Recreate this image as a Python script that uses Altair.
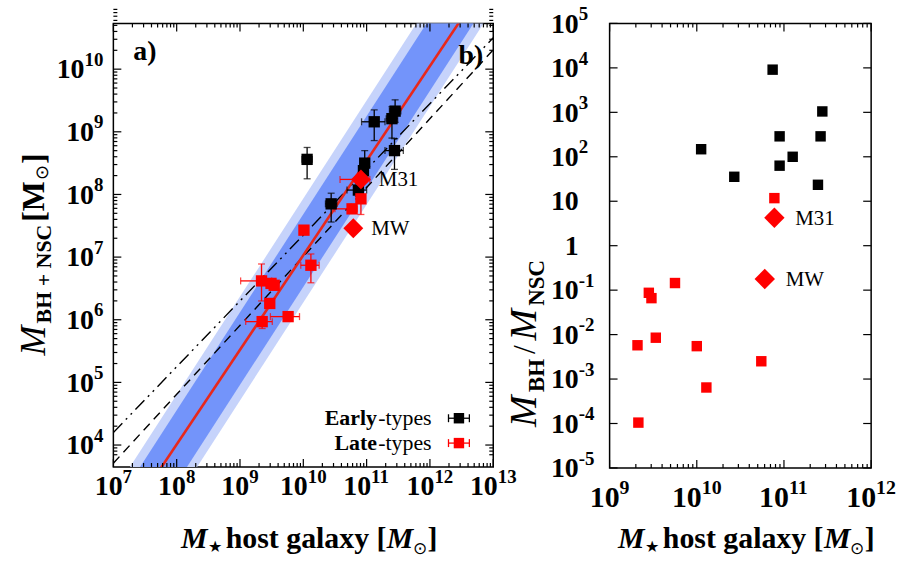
import altair as alt
import pandas as pd

FONT = "Liberation Serif"

# ---------------- data (log10 values) ----------------
# panel a) early-type hosts: log M*, log M(BH+NSC), error-bar limits
early_x   = [10.06, 10.44, 10.97, 10.87, 11.12, 11.40, 11.45, 11.44, 10.95]
early_y   = [8.56, 7.85, 8.50, 8.07, 9.16, 9.21, 9.33, 8.70, 8.38]
early_xlo = [9.98, 10.35, 10.90, 10.69, 10.92, 11.31, 11.36, 11.29, 10.90]
early_xhi = [10.14, 10.53, 11.04, 11.00, 11.29, 11.49, 11.54, 11.58, 11.00]
early_ylo = [8.25, 7.56, 8.28, 7.97, 8.86, 8.90, 9.15, 8.40, 8.30]
early_yhi = [8.75, 8.02, 8.70, 8.17, 9.35, 9.40, 9.51, 8.89, 8.46]

# panel a) late-type hosts
late_x   = [10.01, 10.77, 10.91, 9.34, 9.49, 9.54, 9.47, 9.35, 9.76, 10.12]
late_y   = [7.43, 7.77, 7.93, 6.62, 6.58, 6.55, 6.26, 5.97, 6.05, 6.87]
late_xlo = [9.98, 10.50, 10.86, 9.01, 9.44, 9.50, 9.43, 9.09, 9.48, 9.96]
late_xhi = [10.04, 10.85, 10.96, 9.50, 9.54, 9.58, 9.51, 9.51, 9.94, 10.25]
late_ylo = [7.38, 7.70, 7.68, 6.30, 6.54, 6.50, 6.22, 5.86, 6.01, 6.59]
late_yhi = [7.47, 7.84, 8.00, 6.89, 6.62, 6.60, 6.30, 6.05, 6.09, 7.05]

# Local Group galaxies (diamonds)
lg_names = ["M31", "MW"]
lg_x = [10.91, 10.79]
lg_y = [8.24, 7.46]
m31_xlo, m31_xhi, m31_ylo, m31_yhi = 10.58, 11.05, 8.18, 8.30

# relations in panel a): slope and value at log M* = 11
fit_slope, fit_at11 = 1.51, 8.54            # red best fit
band_slope, band_at11 = 1.565, 8.67         # centre of the shaded bands
band_dark, band_light = 0.58, 0.83          # half widths (dex)
ddot_slope, ddot_at11 = 1.05, 8.40          # dash-dot-dot relation
dash_slope, dash_at11 = 1.10, 8.11          # dashed relation

# panel b) log(M_BH / M_NSC)
ratio_early_x = [10.87, 11.44, 10.95, 11.42, 10.05, 11.10, 10.95, 10.43, 11.39]
ratio_early_y = [3.96, 3.02, 2.46, 2.46, 2.17, 2.00, 1.80, 1.55, 1.37]
ratio_late_x = [10.89, 9.75, 9.45, 9.48, 9.53, 9.32, 10.00, 10.74, 10.11, 9.33]
ratio_late_y = [1.07, -0.84, -1.06, -1.18, -2.07, -2.24, -2.26, -2.60, -3.19, -3.98]
ratio_lg_x = [10.89, 10.78]
ratio_lg_y = [0.63, -0.75]

# tick labels: mantissa + exponent
a_x_exp = [7, 8, 9, 10, 11, 12, 13]
a_x_man = ["10"] * 7
a_x_sup = ["7", "8", "9", "10", "11", "12", "13"]
a_y_exp = [4, 5, 6, 7, 8, 9, 10]
a_y_man = ["10"] * 7
a_y_sup = ["4", "5", "6", "7", "8", "9", "10"]
b_x_exp = [9, 10, 11, 12]
b_x_man = ["10"] * 4
b_x_sup = ["9", "10", "11", "12"]
b_y_exp = [-5, -4, -3, -2, -1, 0, 1, 2, 3, 4, 5]
b_y_man = ["10", "10", "10", "10", "10", "1", "10", "10", "10", "10", "10"]
b_y_sup = ["-5", "-4", "-3", "-2", "-1", "", "", "2", "3", "4", "5"]

# ---------------- helpers ----------------
P = lambda v: 10.0 ** v

WA, HA = 382, 446
WB, HB = 263, 447

xs_a = alt.Scale(type="log", domain=[1e7, 1e13], nice=False)
ys_a = alt.Scale(type="log", domain=[P(3.65), P(10.73)], nice=False)
xs_b = alt.Scale(type="log", domain=[1e9, 1e12], nice=False)
ys_b = alt.Scale(type="log", domain=[1e-5, 1e5], nice=False)


def XA(f):
    return alt.X(f, type="quantitative", scale=xs_a, axis=None)


def YA(f):
    return alt.Y(f, type="quantitative", scale=ys_a, axis=None)


def XB(f):
    return alt.X(f, type="quantitative", scale=xs_b, axis=None)


def YB(f):
    return alt.Y(f, type="quantitative", scale=ys_b, axis=None)


def txt(s, x, y, size, weight="normal", style="normal", angle=0, align="center",
        baseline="middle", color="black"):
    return alt.Chart(pd.DataFrame({"t": [s]})).mark_text(
        font=FONT, fontSize=size, fontWeight=weight, fontStyle=style, angle=angle,
        align=align, baseline=baseline, color=color
    ).encode(x=alt.value(x), y=alt.value(y), text="t:N")


def tick_df(exps, mans, sups):
    return pd.DataFrame({"v": [P(e) for e in exps], "m": mans, "s": sups,
                         "n": [len(s) for s in sups]})


def x_tick_labels(X, exps, mans, sups, H, fs, es, base_off, sup_off, digit_w):
    df = tick_df(exps, mans, sups)
    out = []
    for n in sorted(set(df["n"])):
        sub = df[df["n"] == n]
        man_w = fs * 0.5 * 2
        total = man_w + n * digit_w
        edge = -total / 2 + man_w
        out.append(alt.Chart(sub).mark_text(font=FONT, fontSize=fs, fontWeight="bold", align="right",
                                            baseline="alphabetic", dx=edge, color="black")
                   .encode(x=X("v"), y=alt.value(H + base_off), text="m:N"))
        out.append(alt.Chart(sub).mark_text(font=FONT, fontSize=es, fontWeight="bold", align="left",
                                            baseline="alphabetic", dx=edge, color="black")
                   .encode(x=X("v"), y=alt.value(H + sup_off), text="s:N"))
    return out


def y_tick_labels(Y, exps, mans, sups, fs, es, right_edge, per_digit, fixed=False):
    df = tick_df(exps, mans, sups)
    out = []
    groups = [0] if fixed else sorted(set(df["n"]))
    for n in groups:
        sub = df if fixed else df[df["n"] == n]
        edge = right_edge if fixed else right_edge - n * per_digit
        out.append(alt.Chart(sub).mark_text(font=FONT, fontSize=fs, fontWeight="bold", align="right",
                                            baseline="alphabetic", dy=fs * 0.33, color="black")
                   .encode(x=alt.value(edge), y=Y("v"), text="m:N"))
        out.append(alt.Chart(sub).mark_text(font=FONT, fontSize=es, fontWeight="bold", align="left",
                                            baseline="alphabetic", dy=-fs * 0.12, color="black")
                   .encode(x=alt.value(edge), y=Y("v"), text="s:N"))
    return out


def frame_ticks(X, Y, W, H, xmaj, xmin, ymaj, ymin, maj=8, mnr=4):
    out = []
    for vals, L in [(xmaj, maj), (xmin, mnr)]:
        if not vals:
            continue
        d = pd.DataFrame({"v": vals})
        r = alt.Chart(d).mark_rule(color="black", strokeWidth=1.2)
        out.append(r.encode(x=X("v"), y=alt.value(H), y2=alt.value(H - L)))
        out.append(r.encode(x=X("v"), y=alt.value(0), y2=alt.value(L)))
    for vals, L in [(ymaj, maj), (ymin, mnr)]:
        if not vals:
            continue
        d = pd.DataFrame({"v": vals})
        r = alt.Chart(d).mark_rule(color="black", strokeWidth=1.2)
        out.append(r.encode(y=Y("v"), x=alt.value(0), x2=alt.value(L)))
        out.append(r.encode(y=Y("v"), x=alt.value(W), x2=alt.value(W - L)))
    return out


def minors(e0, e1):
    return [m * P(k) for k in range(e0, e1) for m in range(2, 10)]


def errbars(df, X, Y, color, cap=7):
    base_h = alt.Chart(df).mark_rule(color=color, strokeWidth=1.3)
    tk = lambda o: alt.Chart(df).mark_tick(color=color, orient=o, size=cap, thickness=1.3)
    return [
        base_h.encode(x=X("xlo"), x2="xhi", y=Y("y")),
        base_h.encode(x=X("x"), y=Y("ylo"), y2="yhi"),
        tk("vertical").encode(x=X("xlo"), y=Y("y")),
        tk("vertical").encode(x=X("xhi"), y=Y("y")),
        tk("horizontal").encode(x=X("x"), y=Y("ylo")),
        tk("horizontal").encode(x=X("x"), y=Y("yhi")),
    ]


def lin_rel(slope, at11, off=0.0):
    return [P(at11 + off + slope * (x - 11.0)) for x in (7.0, 13.0)]


def x_title(cx, base):
    return [
        txt("M", cx - 123, base, 30, weight="bold", style="italic", align="left", baseline="alphabetic"),
        txt("★", cx - 96, base + 5, 16, align="left", baseline="alphabetic"),
        txt("host galaxy [", cx - 78, base, 30, weight="bold", align="left", baseline="alphabetic"),
        txt("M", cx + 84, base, 30, weight="bold", style="italic", align="left", baseline="alphabetic"),
        txt("⊙", cx + 110, base + 7, 17, align="left", baseline="alphabetic"),
        txt("]", cx + 125, base, 30, weight="bold", align="left", baseline="alphabetic"),
    ]


# ---------------- panel a ----------------
def logdf(**cols):
    return pd.DataFrame({k: [P(v) for v in vals] for k, vals in cols.items()})


early_df = logdf(x=early_x, y=early_y, xlo=early_xlo, xhi=early_xhi, ylo=early_ylo, yhi=early_yhi)
late_df = logdf(x=late_x, y=late_y, xlo=late_xlo, xhi=late_xhi, ylo=late_ylo, yhi=late_yhi)
m31_df = logdf(x=[lg_x[0]], y=[lg_y[0]], xlo=[m31_xlo], xhi=[m31_xhi], ylo=[m31_ylo], yhi=[m31_yhi])
lg_df = pd.DataFrame({"name": lg_names, "x": [P(v) for v in lg_x], "y": [P(v) for v in lg_y]})

band_df = pd.DataFrame({
    "x": [1e7, 1e13],
    "dlo": lin_rel(band_slope, band_at11, -band_dark),
    "dhi": lin_rel(band_slope, band_at11, band_dark),
    "llo": lin_rel(band_slope, band_at11, -band_light),
    "lhi": lin_rel(band_slope, band_at11, band_light),
    "fit": lin_rel(fit_slope, fit_at11),
    "ddot": lin_rel(ddot_slope, ddot_at11),
    "dash": lin_rel(dash_slope, dash_at11),
})

bands = alt.Chart(band_df)
a_layers = [
    bands.mark_area(color="#c6d3fb", clip=True).encode(x=XA("x"), y=YA("llo"), y2="lhi"),
    bands.mark_area(color="#7394fa", clip=True).encode(x=XA("x"), y=YA("dlo"), y2="dhi"),
    bands.mark_line(color="black", strokeWidth=1.4, strokeDash=[13, 5, 2, 5, 2, 5], clip=True).encode(x=XA("x"), y=YA("ddot")),
    bands.mark_line(color="black", strokeWidth=1.4, strokeDash=[9, 6], clip=True).encode(x=XA("x"), y=YA("dash")),
    bands.mark_line(color="#e8281c", strokeWidth=2.6, clip=True).encode(x=XA("x"), y=YA("fit")),
]
a_layers += errbars(early_df, XA, YA, "black")
a_layers += errbars(late_df, XA, YA, "#ff0000")
a_layers += errbars(m31_df, XA, YA, "#ff0000")
a_layers += [
    alt.Chart(early_df).mark_square(color="black", size=130, opacity=1).encode(x=XA("x"), y=YA("y")),
    alt.Chart(late_df).mark_square(color="#ff0000", size=130, opacity=1).encode(x=XA("x"), y=YA("y")),
    alt.Chart(lg_df).mark_point(shape="diamond", filled=True, color="#ff0000", size=400, opacity=1).encode(x=XA("x"), y=YA("y")),
    alt.Chart(lg_df).mark_text(font=FONT, fontSize=21, align="left", baseline="middle", dx=18, dy=1, color="black").encode(
        x=XA("x"), y=YA("y"), text="name:N"),
]
a_layers += frame_ticks(XA, YA, WA, HA, [P(e) for e in a_x_exp], minors(7, 13),
                        [P(e) for e in a_y_exp], minors(3, 11)[5:])
a_layers += x_tick_labels(XA, a_x_exp, a_x_man, a_x_sup, HA, 28, 19, 28, 16, 9.5)
a_layers += y_tick_labels(YA, a_y_exp, a_y_man, a_y_sup, 28, 19, -10, 9.5)

# legend of panel a
one = alt.Chart(pd.DataFrame({"k": [0]}))
for row, (bold, color) in enumerate([("Early", "black"), ("Late", "#ff0000")]):
    yc = 397 + 25 * row
    a_layers.append(txt("-types", 320, yc + 7, 22, align="right", baseline="alphabetic"))
    a_layers.append(txt(bold, 265, yc + 7, 22, weight="bold", align="right", baseline="alphabetic"))
    a_layers.append(one.mark_rule(color=color, strokeWidth=1.3).encode(x=alt.value(337), x2=alt.value(358), y=alt.value(yc)))
    a_layers.append(one.mark_rule(color=color, strokeWidth=1.3).encode(x=alt.value(337), y=alt.value(yc - 4), y2=alt.value(yc + 4)))
    a_layers.append(one.mark_rule(color=color, strokeWidth=1.3).encode(x=alt.value(358), y=alt.value(yc - 4), y2=alt.value(yc + 4)))
    a_layers.append(one.mark_square(color=color, size=110, opacity=1).encode(x=alt.value(347.5), y=alt.value(yc)))

# panel labels
a_layers.append(txt("a)", 20, 37, 28, weight="bold", align="left", baseline="alphabetic"))
a_layers.append(txt("b)", 347, 41, 28, weight="bold", align="left", baseline="alphabetic"))

# y title of panel a (rotated)
a_layers += [
    txt("M", -80, 319, 36, style="italic", angle=270),
    txt("BH + NSC", -70, 252, 22, weight="bold", angle=270),
    txt("[M", -80, 179, 32, weight="bold", angle=270),
    txt("⊙", -71, 150, 18, angle=270),
    txt("]", -80, 136, 32, weight="bold", angle=270),
]
a_layers += x_title(WA / 2, 527)

panel_a = alt.layer(*a_layers).properties(width=WA, height=HA)

# ---------------- panel b ----------------
rb_early = logdf(x=ratio_early_x, y=ratio_early_y)
rb_late = logdf(x=ratio_late_x, y=ratio_late_y)
rb_lg = pd.DataFrame({"name": lg_names, "x": [P(v) for v in ratio_lg_x], "y": [P(v) for v in ratio_lg_y]})

b_layers = [
    alt.Chart(rb_early).mark_square(color="black", size=110, opacity=1).encode(x=XB("x"), y=YB("y")),
    alt.Chart(rb_late).mark_square(color="#ff0000", size=110, opacity=1).encode(x=XB("x"), y=YB("y")),
    alt.Chart(rb_lg).mark_point(shape="diamond", filled=True, color="#ff0000", size=420, opacity=1).encode(x=XB("x"), y=YB("y")),
    alt.Chart(rb_lg).mark_text(font=FONT, fontSize=21, align="left", baseline="middle", dx=21, dy=1, color="black").encode(
        x=XB("x"), y=YB("y"), text="name:N"),
]
b_layers += frame_ticks(XB, YB, WB, HB, [P(e) for e in b_x_exp], minors(9, 12),
                        [P(e) for e in b_y_exp], [])
b_layers += x_tick_labels(XB, b_x_exp, b_x_man, b_x_sup, HB, 30, 20, 39, 26, 10)
b_layers += y_tick_labels(YB, b_y_exp, b_y_man, b_y_sup, 28, 19, -31, 0, fixed=True)
b_layers += [
    txt("M", -85, 390, 38, style="italic", angle=270),
    txt("BH", -73, 354, 23, weight="bold", angle=270),
    txt("/", -85, 328, 32, angle=270),
    txt("M", -85, 303, 38, style="italic", angle=270),
    txt("NSC", -73, 261, 23, weight="bold", angle=270),
]
b_layers += x_title(WB / 2, 527)

panel_b = alt.layer(*b_layers).properties(width=WB, height=HB)

chart = alt.hconcat(panel_a, panel_b, spacing=117, bounds="flush").properties(
    padding={"left": 15, "top": 2, "right": 0, "bottom": 0}
).configure_view(stroke="black", strokeWidth=1.5)

chart.save("out.html", embed_options={"renderer": "svg", "actions": False})
